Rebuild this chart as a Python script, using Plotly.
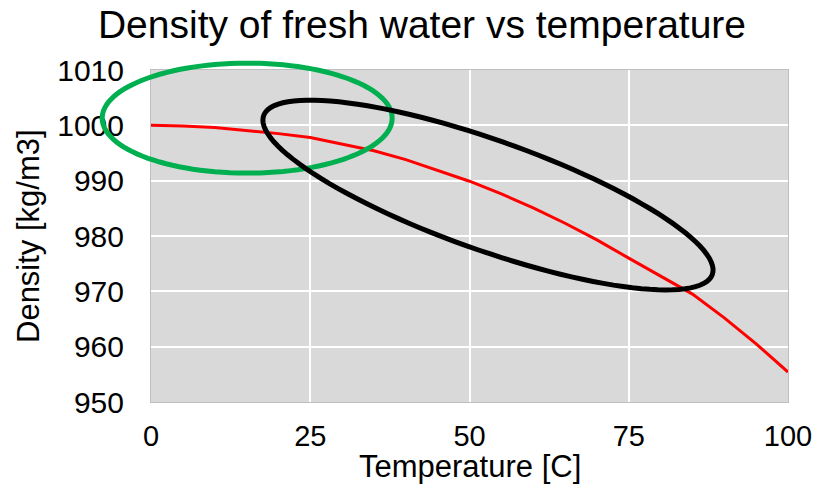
import numpy as np
import plotly.graph_objects as go

# density of fresh water
temperature = [0, 5, 10, 15, 20, 25, 30, 35, 40, 45, 50, 55, 60, 65, 70, 75, 80, 85, 90, 95, 100]
density = [1000.0, 999.9, 999.6, 999.1, 998.5, 997.8, 996.6, 995.4, 993.8, 991.9, 989.9,
           987.6, 985.1, 982.3, 979.3, 976.0, 972.8, 969.5, 965.2, 960.5, 955.4]

x_ticks = [0, 25, 50, 75, 100]
y_ticks = [950, 960, 970, 980, 990, 1000, 1010]

# highlight ellipses: centre in data units, semi axes in pixels, tilt in degrees
green_ellipse = dict(cx=15.1, cy=1001.3, a=145, b=55, angle=0, color="#00b050")
black_ellipse = dict(cx=52.9, cy=987.4, a=238, b=55, angle=-19.5, color="#000000")

X_RANGE = [0, 100]
Y_RANGE = [950, 1010]
W, H = 815, 485
M = dict(l=151, r=27, t=70, b=83)
PW = W - M["l"] - M["r"]
PH = H - M["t"] - M["b"]


def ellipse_path(e, n=120):
    t = np.linspace(0, 2 * np.pi, n)
    th = np.radians(e["angle"])
    dx = e["a"] * np.cos(t) * np.cos(th) - e["b"] * np.sin(t) * np.sin(th)
    dy = e["a"] * np.cos(t) * np.sin(th) + e["b"] * np.sin(t) * np.cos(th)
    px = (e["cx"] - X_RANGE[0]) / (X_RANGE[1] - X_RANGE[0]) + dx / PW
    py = (e["cy"] - Y_RANGE[0]) / (Y_RANGE[1] - Y_RANGE[0]) + dy / PH
    pts = " L".join(f"{a:.4f},{b:.4f}" for a, b in zip(px, py))
    return "M" + pts + " Z"


font = "Arial, Liberation Sans, sans-serif"

fig = go.Figure()
fig.add_trace(go.Scatter(
    x=temperature,
    y=density,
    mode="lines",
    line=dict(color="#ff0000", width=3),
    showlegend=False,
    hoverinfo="skip",
))

for e in [green_ellipse, black_ellipse]:
    fig.add_shape(
        type="path",
        path=ellipse_path(e),
        xref="paper", yref="paper",
        line=dict(color=e["color"], width=5),
        layer="above",
    )

# axis titles as annotations so that the margins stay put
fig.add_annotation(
    text="Temperature [C]", xref="paper", yref="paper",
    x=0.5, y=-64 / PH, yanchor="middle",
    showarrow=False, font=dict(size=31),
)
fig.add_annotation(
    text="Density [kg/m3]", xref="paper", yref="paper",
    x=-123 / PW, y=0.5, xanchor="center", textangle=-90,
    showarrow=False, font=dict(size=31),
)

fig.update_layout(
    width=W, height=H,
    margin=M,
    paper_bgcolor="white",
    plot_bgcolor="#d9d9d9",
    font=dict(family=font, color="#000000"),
    title=dict(
        text="Density of fresh water vs temperature",
        font=dict(size=39, color="#000000"),
        x=422 / W, xref="container", xanchor="center",
        y=1 - 24 / H, yref="container", yanchor="middle",
    ),
)
fig.update_xaxes(
    range=X_RANGE,
    tickvals=x_ticks,
    tickfont=dict(size=29),
    ticks="",
    ticklabelstandoff=8,
    showgrid=True, gridcolor="white", gridwidth=1.5,
    zeroline=False,
    showline=True, linecolor="#bfbfbf", linewidth=1, mirror=True,
    automargin=False,
)
fig.update_yaxes(
    range=Y_RANGE,
    tickvals=y_ticks,
    tickfont=dict(size=30),
    ticks="",
    ticklabelstandoff=20,
    showgrid=True, gridcolor="white", gridwidth=1.5,
    zeroline=False,
    showline=True, linecolor="#bfbfbf", linewidth=1, mirror=True,
    automargin=False,
)

# drop the default body margin so the figure fills the window exactly
fig.write_html(
    "out.html",
    config={"displayModeBar": False},
    post_script="document.body.style.margin='0px';",
)
